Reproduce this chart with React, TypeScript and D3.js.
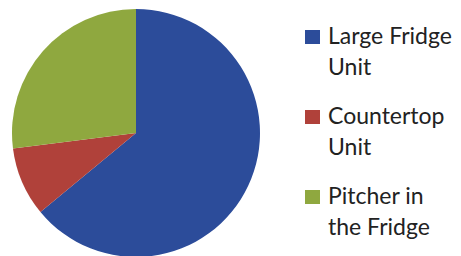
import React, { useEffect, useRef } from 'react';
import * as d3 from 'd3';

const categories = ['Large Fridge Unit', 'Countertop Unit', 'Pitcher in the Fridge'];
const legendLines = [['Large Fridge', 'Unit'], ['Countertop', 'Unit'], ['Pitcher in', 'the Fridge']];
const values = [64, 9, 27];
const colors = ['#2c4c9a', '#b0413a', '#8fa83f'];

const App = () => {
    const ref = useRef(null);

    const width = 461;
    const height = 256;
    const cx = 136;
    const cy = 133;
    const radius = 124;

    useEffect(() => {
        drawChart();
    }, []);

    function drawChart() {
        const root = d3.select(ref.current);
        root.selectAll('*').remove();

        const data = categories.map((c, i) => ({ label: c, value: values[i], color: colors[i], lines: legendLines[i] }));

        const pieGenerator = d3
            .pie()
            .sort(null)
            .value((d) => d.value);

        const arcGenerator = d3
            .arc()
            .innerRadius(0)
            .outerRadius(radius);

        root
            .append('g')
            .attr('transform', `translate(${cx}, ${cy})`)
            .selectAll('path')
            .data(pieGenerator(data))
            .enter()
            .append('path')
            .attr('d', arcGenerator)
            .style('fill', (d) => d.data.color);

        // legend
        const legend = root
            .append('g')
            .selectAll('g')
            .data(data)
            .enter()
            .append('g')
            .attr('transform', (d, i) => `translate(305, ${44 + i * 80})`);

        legend
            .append('rect')
            .attr('x', 0)
            .attr('y', -14)
            .attr('width', 15)
            .attr('height', 14)
            .style('fill', (d) => d.color);

        legend
            .append('text')
            .attr('x', 23)
            .style('font-family', 'Lato, sans-serif')
            .style('font-size', '23px')
            .style('fill', '#222')
            .selectAll('tspan')
            .data((d) => d.lines)
            .enter()
            .append('tspan')
            .attr('x', 23)
            .attr('dy', (d, i) => (i === 0 ? 0 : 31))
            .text((d) => d);
    }

    return (
        <svg ref={ref} width={width} height={height} style={{ position: 'absolute', left: 0, top: 0, background: '#fff' }} />
    );
};

export default App;
